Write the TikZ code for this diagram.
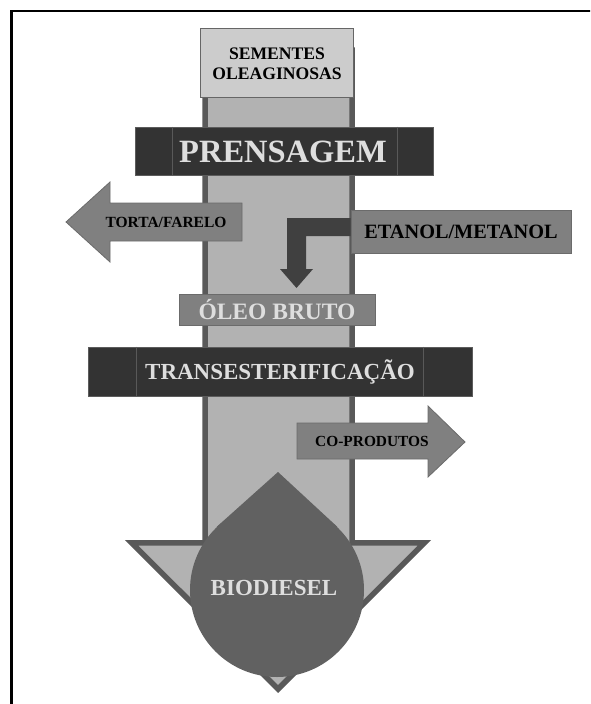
\documentclass[tikz,border=0pt]{standalone}
\usepackage{fontspec}
\setmainfont{Liberation Serif}
\begin{document}
\definecolor{shaftfill}{gray}{0.70}
\definecolor{shaftline}{gray}{0.35}
\definecolor{seedfill}{gray}{0.80}
\definecolor{barfill}{gray}{0.20}
\definecolor{midfill}{gray}{0.50}
\definecolor{midline}{gray}{0.42}
\definecolor{bentfill}{gray}{0.25}
\definecolor{dropfill}{gray}{0.38}
\definecolor{lighttext}{gray}{0.87}
\begin{tikzpicture}[x=1pt,y=-1pt,
  lbl/.style={font=\bfseries, inner sep=0pt, align=center},
  darkbar/.style={fill=barfill, draw=barfill!80!white, line width=0.8pt, inner sep=0pt,
    text=lighttext, font=\bfseries},
  divider/.style={draw=gray!70!black, line width=0.8pt},
  midbox/.style={fill=midfill, draw=midline, line width=0.8pt, inner sep=0pt},
  sidearrow/.style={fill=midfill, draw=midline, line width=0.8pt, line join=miter}]
\useasboundingbox (0,0) rectangle (590,704);
\clip (0,0) rectangle (590,704);

% outer frame (top and left edges)
\draw[line width=2.6pt, black] (600,11) -- (11.5,11) -- (11.5,720);

% main downward flow: shaft and arrowhead (its top is hidden under the seed box)
\draw[fill=shaftfill, draw=shaftline, line width=5.5pt, line join=miter]
  (205,50) -- (205,542.75) -- (131.6,542.75) -- (278,689.1) -- (424.4,542.75)
  -- (352,542.75) -- (352,50) -- cycle;

% raw material
\node[fill=seedfill, draw=gray!80!black, line width=0.8pt, minimum width=153pt,
  minimum height=69pt, inner sep=0pt] (seeds) at (276.5,62.5) {};
\node[lbl, font=\bfseries\fontsize{17.6}{20}\selectfont] (seedstxt) at (277,64)
  {SEMENTES\\OLEAGINOSAS};

% pressing stage
\node[darkbar, minimum width=298pt, minimum height=48pt] (press) at (284,151) {};
\draw[divider] ([xshift=38pt]press.north west) -- ([xshift=38pt]press.south west);
\draw[divider] ([xshift=-36pt]press.north east) -- ([xshift=-36pt]press.south east);
\node[lbl, text=lighttext, font=\bfseries\fontsize{32.5}{36}\selectfont] (presstxt)
  at (283,152) {PRENSAGEM};

% cake / meal output
\draw[sidearrow] (66,222) -- (110,182) -- (110,203) -- (242,203) -- (242,241)
  -- (110,241) -- (110,262) -- cycle;
\node[lbl, font=\bfseries\fontsize{15.5}{18}\selectfont] (cake) at (166,222)
  {TORTA/FARELO};

% alcohol input
\node[midbox, minimum width=220pt, minimum height=43pt] (alcohol) at (461,231.5) {};
\node[lbl, font=\bfseries\fontsize{20.3}{24}\selectfont] (alcoholtxt) at (461,232)
  {ETANOL/METANOL};
\fill[bentfill] (alcohol.west |- 0,218) -- (287,218) -- (287,269) -- (280,269)
  -- (296.5,288) -- (313,269) -- (306,269) -- (306,236) -- (alcohol.west |- 0,236) -- cycle;

% crude oil
\node[midbox, minimum width=196pt, minimum height=31pt] (oil) at (277,309.5) {};
\node[lbl, text=lighttext, font=\bfseries\fontsize{23.5}{26}\selectfont] (oiltxt)
  at (277,310) {ÓLEO BRUTO};

% transesterification stage
\node[darkbar, minimum width=384pt, minimum height=49pt] (trans) at (280,371.5) {};
\draw[divider] ([xshift=49pt]trans.north west) -- ([xshift=49pt]trans.south west);
\draw[divider] ([xshift=-49pt]trans.north east) -- ([xshift=-49pt]trans.south east);
\node[lbl, text=lighttext, font=\bfseries\fontsize{23}{26}\selectfont] (transtxt)
  at (280,372) {TRANSESTERIFICAÇÃO};

% by-products output
\draw[sidearrow] (297,423) -- (428,423) -- (428,406) -- (465,442) -- (428,477)
  -- (428,459) -- (297,459) -- cycle;
\node[lbl, font=\bfseries\fontsize{15.4}{18}\selectfont] (coprod) at (372,441)
  {CO-PRODUTOS};

% biodiesel drop
\coordinate (droptip) at (278,472);
\fill[dropfill] (277,590) circle[radius=87pt];
\fill[dropfill] (droptip) -- (337.5,527) -- (277,590) -- (216.5,527) -- cycle;
\node[lbl, text=lighttext, font=\bfseries\fontsize{23}{26}\selectfont] (bio)
  at (274,588) {BIODIESEL};
\end{tikzpicture}
\end{document}
